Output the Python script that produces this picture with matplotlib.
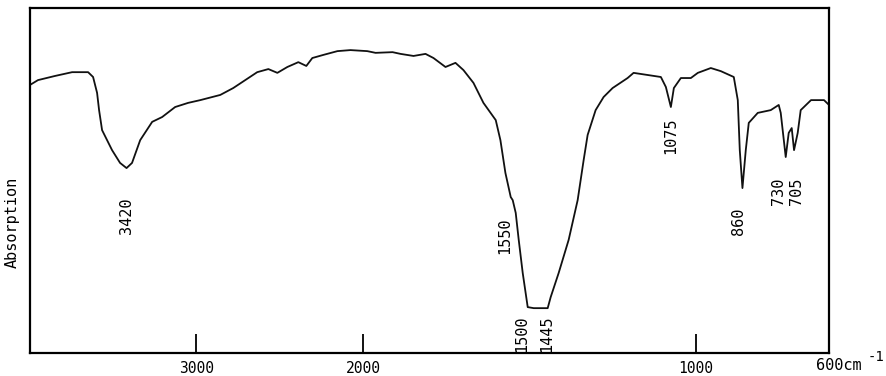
import numpy as np
import matplotlib
matplotlib.use("Agg")
import matplotlib.pyplot as plt

# IR spectrum (wavenumber in cm-1, relative height in % of frame)
wavenumber = [4000, 3952, 3850, 3747, 3651, 3621, 3597, 3585, 3567, 3507, 3459, 3420,
              3387, 3338, 3266, 3206, 3128, 3050, 2977, 2857, 2779, 2635, 2568, 2514,
              2454, 2388, 2340, 2304, 2238, 2153, 2075, 1987, 1962, 1911, 1887, 1848,
              1812, 1788, 1752, 1722, 1698, 1668, 1638, 1601, 1587, 1572, 1556, 1550,
              1541, 1532, 1520, 1505, 1487, 1445, 1436, 1412, 1382, 1355, 1337, 1325,
              1301, 1277, 1250, 1205, 1187, 1105, 1090, 1075, 1066, 1045, 1015, 994,
              955, 925, 886, 874, 868, 860, 850, 841, 814, 775, 751, 745, 730, 721,
              712, 705, 694, 685, 654, 615, 600]
signal = [77.7, 79.1, 80.3, 81.4, 81.4, 80.0, 75.4, 70.4, 64.6, 58.8, 55.1, 53.6,
          55.1, 61.7, 67.0, 68.4, 71.3, 72.5, 73.3, 74.8, 76.8, 81.4, 82.3, 81.2,
          82.9, 84.3, 83.2, 85.5, 86.4, 87.5, 87.8, 87.5, 87.0, 87.2, 86.7, 86.1,
          86.7, 85.5, 82.9, 84.1, 82.0, 78.3, 72.5, 67.5, 61.7, 52.2, 45.2, 44.3,
          40.6, 32.8, 23.2, 13.3, 13.0, 13.0, 16.2, 23.2, 32.8, 44.3, 55.9, 63.2,
          70.4, 74.2, 76.8, 79.7, 81.2, 80.0, 77.1, 71.3, 76.8, 79.7, 79.7, 81.2,
          82.6, 81.7, 80.0, 73.3, 58.8, 47.8, 58.8, 66.7, 69.6, 70.4, 71.9, 69.6,
          56.8, 63.8, 65.2, 58.8, 63.8, 70.4, 73.3, 73.3, 71.9]

peak_labels = ["3420", "1550", "1500", "1445", "1075", "860", "730", "705"]
label_x = [3420, 1574, 1523, 1448, 1075, 872, 751, 699]
label_top = [45.2, 39.4, 11.0, 11.0, 68.4, 42.0, 50.7, 50.7]

tick_values = [3000, 2000, 1000, 600]
tick_labels = ["3000", "2000", "1000", ""]


# below 2000 cm-1 the scale is expanded two-fold
def fwd(w):
    w = np.asarray(w, dtype=float)
    return np.where(w >= 2000, w, 2 * w - 2000)


def inv(u):
    u = np.asarray(u, dtype=float)
    return np.where(u >= 2000, u, (u + 2000) / 2)


mono = "DejaVu Sans Mono"

fig = plt.figure(figsize=(8.87, 3.76), dpi=100)
ax = fig.add_axes([30 / 887, 23 / 376, 799 / 887, 345 / 376])
ax.set_xscale("function", functions=(fwd, inv))
ax.plot(wavenumber, signal, color="#111111", linewidth=1.3)
ax.set_xlim(4000, 600)
ax.set_ylim(0, 100)

ax.set_yticks([])
ax.set_xticks(tick_values)
ax.set_xticklabels(tick_labels, fontfamily=mono, fontsize=10.5)
ax.tick_params(axis="x", direction="in", length=14, width=1.3, pad=6)
for s in ax.spines.values():
    s.set_linewidth(1.6)

for txt, x, y in zip(peak_labels, label_x, label_top):
    ax.text(x, y, txt, rotation=90, ha="center", va="top",
            fontfamily=mono, fontsize=11)

# "600cm-1" at the right end of the axis
ax.annotate("600cm", xy=(600, 0), xycoords=("data", "axes fraction"),
            xytext=(-9.4, -3.6), textcoords="offset points",
            ha="left", va="top", fontfamily=mono, fontsize=11)
ax.annotate("-1", xy=(600, 0), xycoords=("data", "axes fraction"),
            xytext=(28, 2.2), textcoords="offset points",
            ha="left", va="top", fontfamily=mono, fontsize=10)

ax.text(-0.022, 0.38, "Absorption", rotation=90, transform=ax.transAxes,
        ha="center", va="center", fontfamily=mono, fontsize=11)

fig.savefig("out.png", dpi=100)
